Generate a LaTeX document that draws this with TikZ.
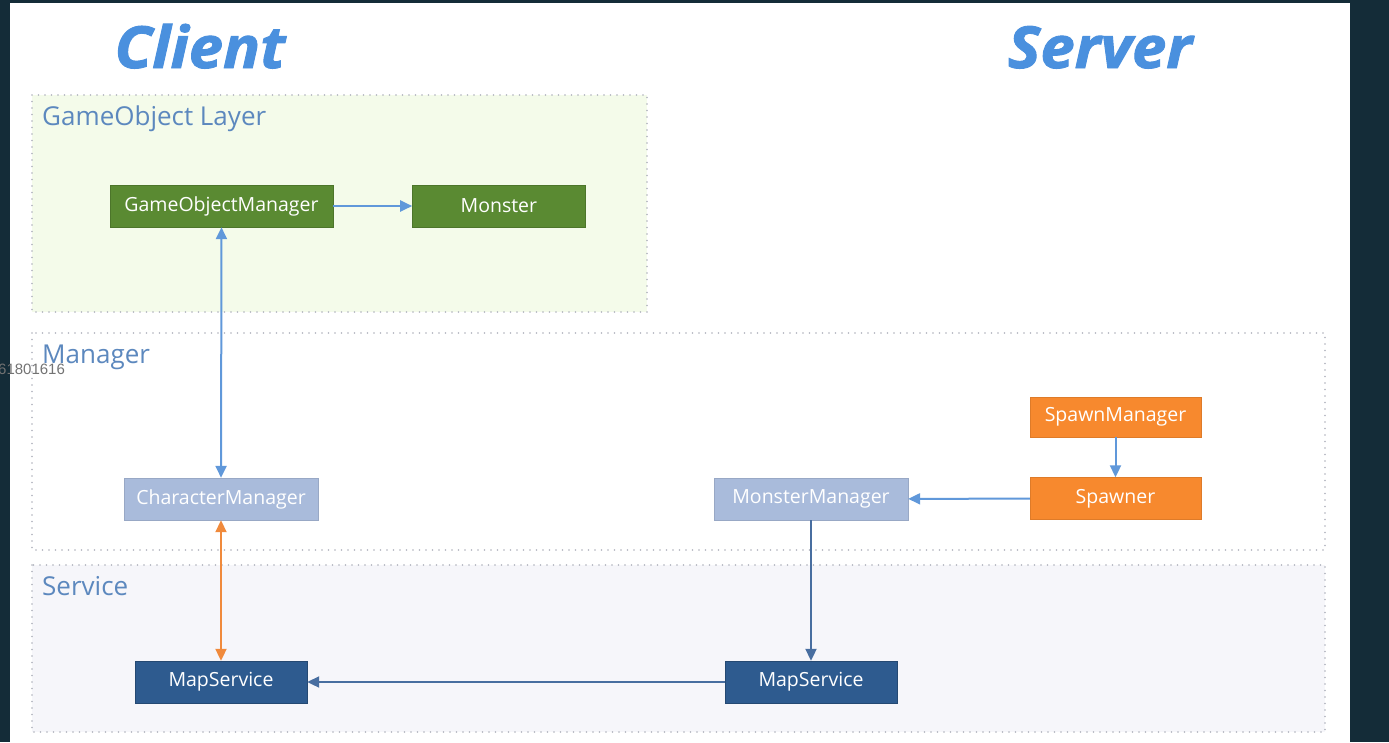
\documentclass[tikz,border=0pt]{standalone}
\usepackage{fontspec}
\setmainfont{Open Sans}
\newfontfamily\digitfont{Liberation Sans}
\newfontfamily\titlefont[BoldItalicFeatures={FakeBold=1.6, FakeStretch=1.06}]{Open Sans}
\usetikzlibrary{positioning}
\usetikzlibrary{arrows.meta}
\definecolor{slidebg}{RGB}{20,44,56}
\definecolor{titleblue}{RGB}{74,144,222}
\definecolor{labelblue}{RGB}{92,136,190}
\definecolor{dotgray}{RGB}{175,178,188}
\definecolor{gofill}{RGB}{244,251,234}
\definecolor{svcfill}{RGB}{246,246,250}
\definecolor{gogreen}{RGB}{90,138,50}
\definecolor{mgrgray}{RGB}{169,187,219}
\definecolor{spawnorange}{RGB}{247,137,46}
\definecolor{svcblue}{RGB}{46,91,143}
\definecolor{arrowblue}{RGB}{96,152,218}
\definecolor{arrowdark}{RGB}{72,110,160}
\definecolor{arroworange}{RGB}{240,138,60}
\tikzstyle{layer} = [draw=dotgray, line width=1.6pt, line cap=round, dash pattern=on 0pt off 6.5pt]
\tikzstyle{layername} = [anchor=base west, inner sep=0pt, text=labelblue, font=\fontsize{26}{30}\selectfont]
\tikzstyle{sidetitle} = [anchor=base, inner sep=0pt, text=titleblue, font=\titlefont\fontsize{58}{62}\selectfont\bfseries\itshape]
\tikzstyle{box} = [rectangle, inner sep=0pt, minimum height=42pt, text=white, font=\fontsize{19.5}{22}\selectfont]
\tikzstyle{gobox} = [box, fill=gogreen, draw=gogreen!85!black]
\tikzstyle{mgrbox} = [box, fill=mgrgray, draw=mgrgray!90!black]
\tikzstyle{spawnbox} = [box, fill=spawnorange, draw=spawnorange!90!black]
\tikzstyle{svcbox} = [box, fill=svcblue, draw=svcblue!80!black]
\tikzstyle{link} = [line width=2pt, >={Triangle[length=12pt,width=11pt]}]

\begin{document}
\begin{tikzpicture}[x=1pt, y=-1pt]
  \useasboundingbox (0,0) rectangle (1389,742);
  \fill[slidebg] (0,0) rectangle (1389,742);
  \fill[white] (10,3) rectangle (1350,742);

  % layers
  \draw[layer, fill=gofill] (32,95) rectangle (647,312);
  \draw[layer] (32,333) rectangle (1325,550);
  \draw[layer, fill=svcfill] (32,565) rectangle (1325,732);
  \node[layername] (l_go) at (42,125) {GameObject Layer};
  \node[layername] (l_mgr) at (42,363) {Manager};
  \node[layername] (l_svc) at (42,595) {Service};

  \node[sidetitle] (client) at (200,68) {Client};
  \node[sidetitle] (server) at (1100,68) {Server};
  \node[anchor=base west, inner sep=0pt, text=black!55, font=\digitfont\fontsize{15}{17}\selectfont] (stamp) at (-2,374) {61801616};

  % client side
  \node[gobox, minimum width=223pt] (gom) at (221.5,206) {GameObjectManager};
  \node[gobox, minimum width=173pt, right=79pt of gom] (monster) {Monster};
  \node[mgrbox, minimum width=194pt] (charmgr) at (221,499) {CharacterManager};
  \node[svcbox, minimum width=172pt] (mapcli) at (221,682) {MapService};

  % server side
  \node[mgrbox, minimum width=194pt] (monstermgr) at (811,499) {MonsterManager};
  \node[spawnbox, minimum width=171pt] (spawner) at (1115.5,498.5) {Spawner};
  \node[spawnbox, minimum width=171pt, minimum height=40pt, above=40pt of spawner] (spawnmgr) {SpawnManager};
  \node[svcbox, minimum width=172pt] (mapsrv) at (811,682) {MapService};

  \draw[link, arrowblue, ->] (gom) -- (monster);
  \draw[link, arrowblue, <->] (gom) -- (charmgr);
  \draw[link, arroworange, <->] (charmgr) -- (mapcli);
  \draw[link, arrowblue, ->] (spawnmgr) -- (spawner);
  \draw[link, arrowblue, ->] (spawner) -- (monstermgr);
  \draw[link, arrowdark, ->] (monstermgr) -- (mapsrv);
  \draw[link, arrowdark, ->] (mapsrv) -- (mapcli);
\end{tikzpicture}
\end{document}
